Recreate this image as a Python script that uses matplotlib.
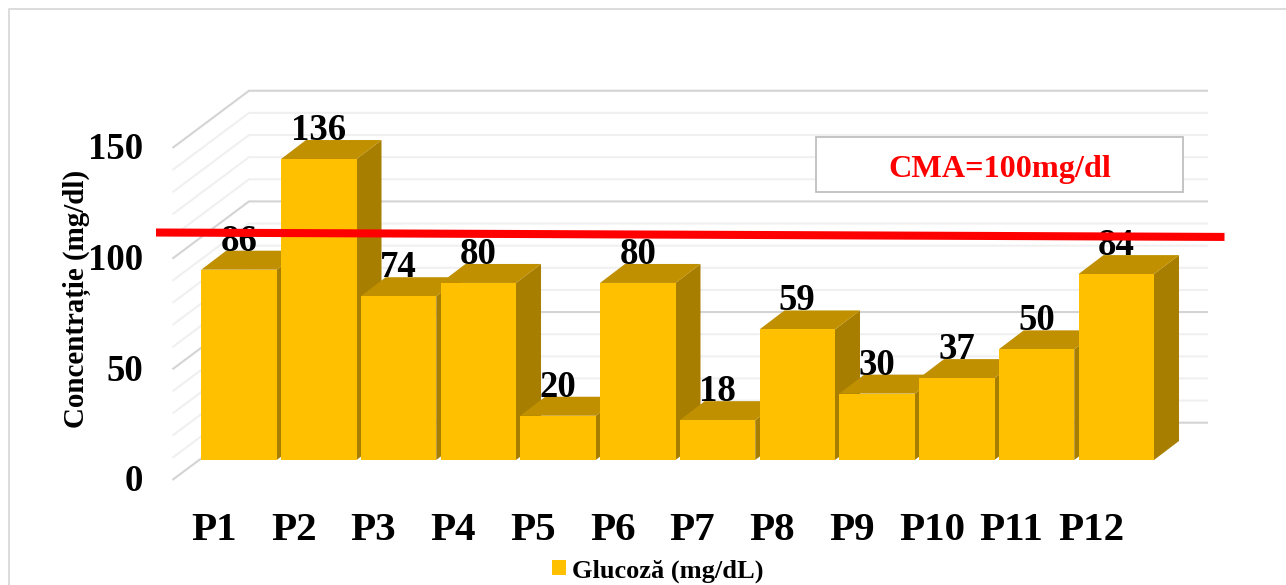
import matplotlib
matplotlib.use("Agg")
import matplotlib.pyplot as plt
from matplotlib.patches import Patch, Polygon, Rectangle

plt.rcParams['font.family'] = ['Liberation Serif', 'DejaVu Serif']

# --- data ---
categories = ["P1", "P2", "P3", "P4", "P5", "P6", "P7", "P8", "P9", "P10", "P11", "P12"]
glucose = [86, 136, 74, 80, 20, 80, 18, 59, 30, 37, 50, 84]
y_ticks = [0, 50, 100, 150]
grid_values = [0, 10, 20, 30, 40, 50, 60, 70, 80, 90, 100, 110, 120, 130, 140, 150]
limit_line = [102.8, 100.8]

# --- scales: pixels per category and per mg/dL ---
W, H = 1286, 585
PX_CAT = 79.75
PX_VAL = 2.213
X0 = 239
Y0 = 460


def px_x(px):
    return (px - X0) / PX_CAT


def px_y(px):
    return (Y0 - px) / PX_VAL


BAR_W = 75.5 / PX_CAT
DX = 25 / PX_CAT       # bar depth
DY = 19 / PX_VAL
FRONT = "#FFC000"
TOP = "#C09000"
SIDE = "#A87E00"
GRID_DARK = "#D4D4D4"
GRID_LIGHT = "#F0F0F0"

fig = plt.figure(figsize=(W / 100, H / 100), dpi=100)
ax = fig.add_axes([0, 0, 1, 1])
ax.set_xlim(px_x(0), px_x(W))
ax.set_ylim(px_y(H), px_y(0))
ax.axis("off")

# outer frame (left and top only reach the picture)
ax.plot([px_x(8.5), px_x(8.5), px_x(W)], [px_y(H), px_y(9), px_y(9)],
        color="#D9D9D9", lw=1.3, zorder=1)

# back wall + left wall gridlines
wall_back = px_y(422.7)
wall_front = px_y(479.3)
for v in grid_values:
    c = GRID_DARK if v in y_ticks else GRID_LIGHT
    ax.plot([px_x(173.3), px_x(249), px_x(1207)],
            [v + wall_front, v + wall_back, v + wall_back],
            color=c, lw=1.5, zorder=1, solid_joinstyle="miter")

# bars, left to right so each one covers the side of the previous
for i, v in enumerate(glucose):
    z = 3 + i
    l, r = i - BAR_W / 2, i + BAR_W / 2
    ax.add_patch(Polygon([(r, 0), (r + DX, DY), (r + DX, v + DY), (r, v)],
                         fc=SIDE, ec="none", zorder=z))
    ax.add_patch(Polygon([(l, v), (r, v), (r + DX, v + DY), (l + DX, v + DY)],
                         fc=TOP, ec="none", zorder=z))
    ax.bar(i, v, width=BAR_W, color=FRONT, zorder=z)

# value labels sit on the back edge of the top face
for i, v in enumerate(glucose):
    ax.text(i, v + DY, str(v), ha="center", va="baseline",
            fontsize=26.5, fontweight="bold", color="black", zorder=20)

# axis text
for v in y_ticks:
    ax.text(px_x(143), v + wall_front - 12 / PX_VAL, str(v), ha="right", va="baseline",
            fontsize=26.5, fontweight="bold", color="black", zorder=20)
for i, name in enumerate(categories):
    ax.text(i - 25 / PX_CAT, px_y(540.5), name, ha="center", va="baseline",
            fontsize=29.5, fontweight="bold", color="black", zorder=20)
ax.text(px_x(77), px_y(299), "Concentrație (mg/dl)", rotation=90, ha="center", va="center",
        fontsize=20.9, fontweight="bold", color="black", zorder=20)

# limit line and its box
ax.plot([px_x(156), px_x(1224.5)], limit_line, color="#FF0000", lw=5.8,
        solid_capstyle="butt", zorder=30)
ax.add_patch(Rectangle((px_x(815.5), px_y(192)), 367.5 / PX_CAT, 54.5 / PX_VAL,
                       fc="white", ec="#BFBFBF", lw=1.3, zorder=30))
ax.text(px_x(999.5), px_y(169), "CMA=100mg/dl", ha="center", va="center", color="#FF0000",
        fontsize=23.2, fontweight="bold", zorder=31)

# legend
handle = Patch(fc=FRONT, ec="none", label="Glucoză (mg/dL)")
ax.legend(handles=[handle], loc="center", bbox_to_anchor=(658 / W, 1 - 571 / H),
          frameon=False, prop={"weight": "bold", "size": 19},
          handlelength=0.5, handleheight=0.5, handletextpad=0.25, borderpad=0)

fig.savefig("out.png", dpi=100)
